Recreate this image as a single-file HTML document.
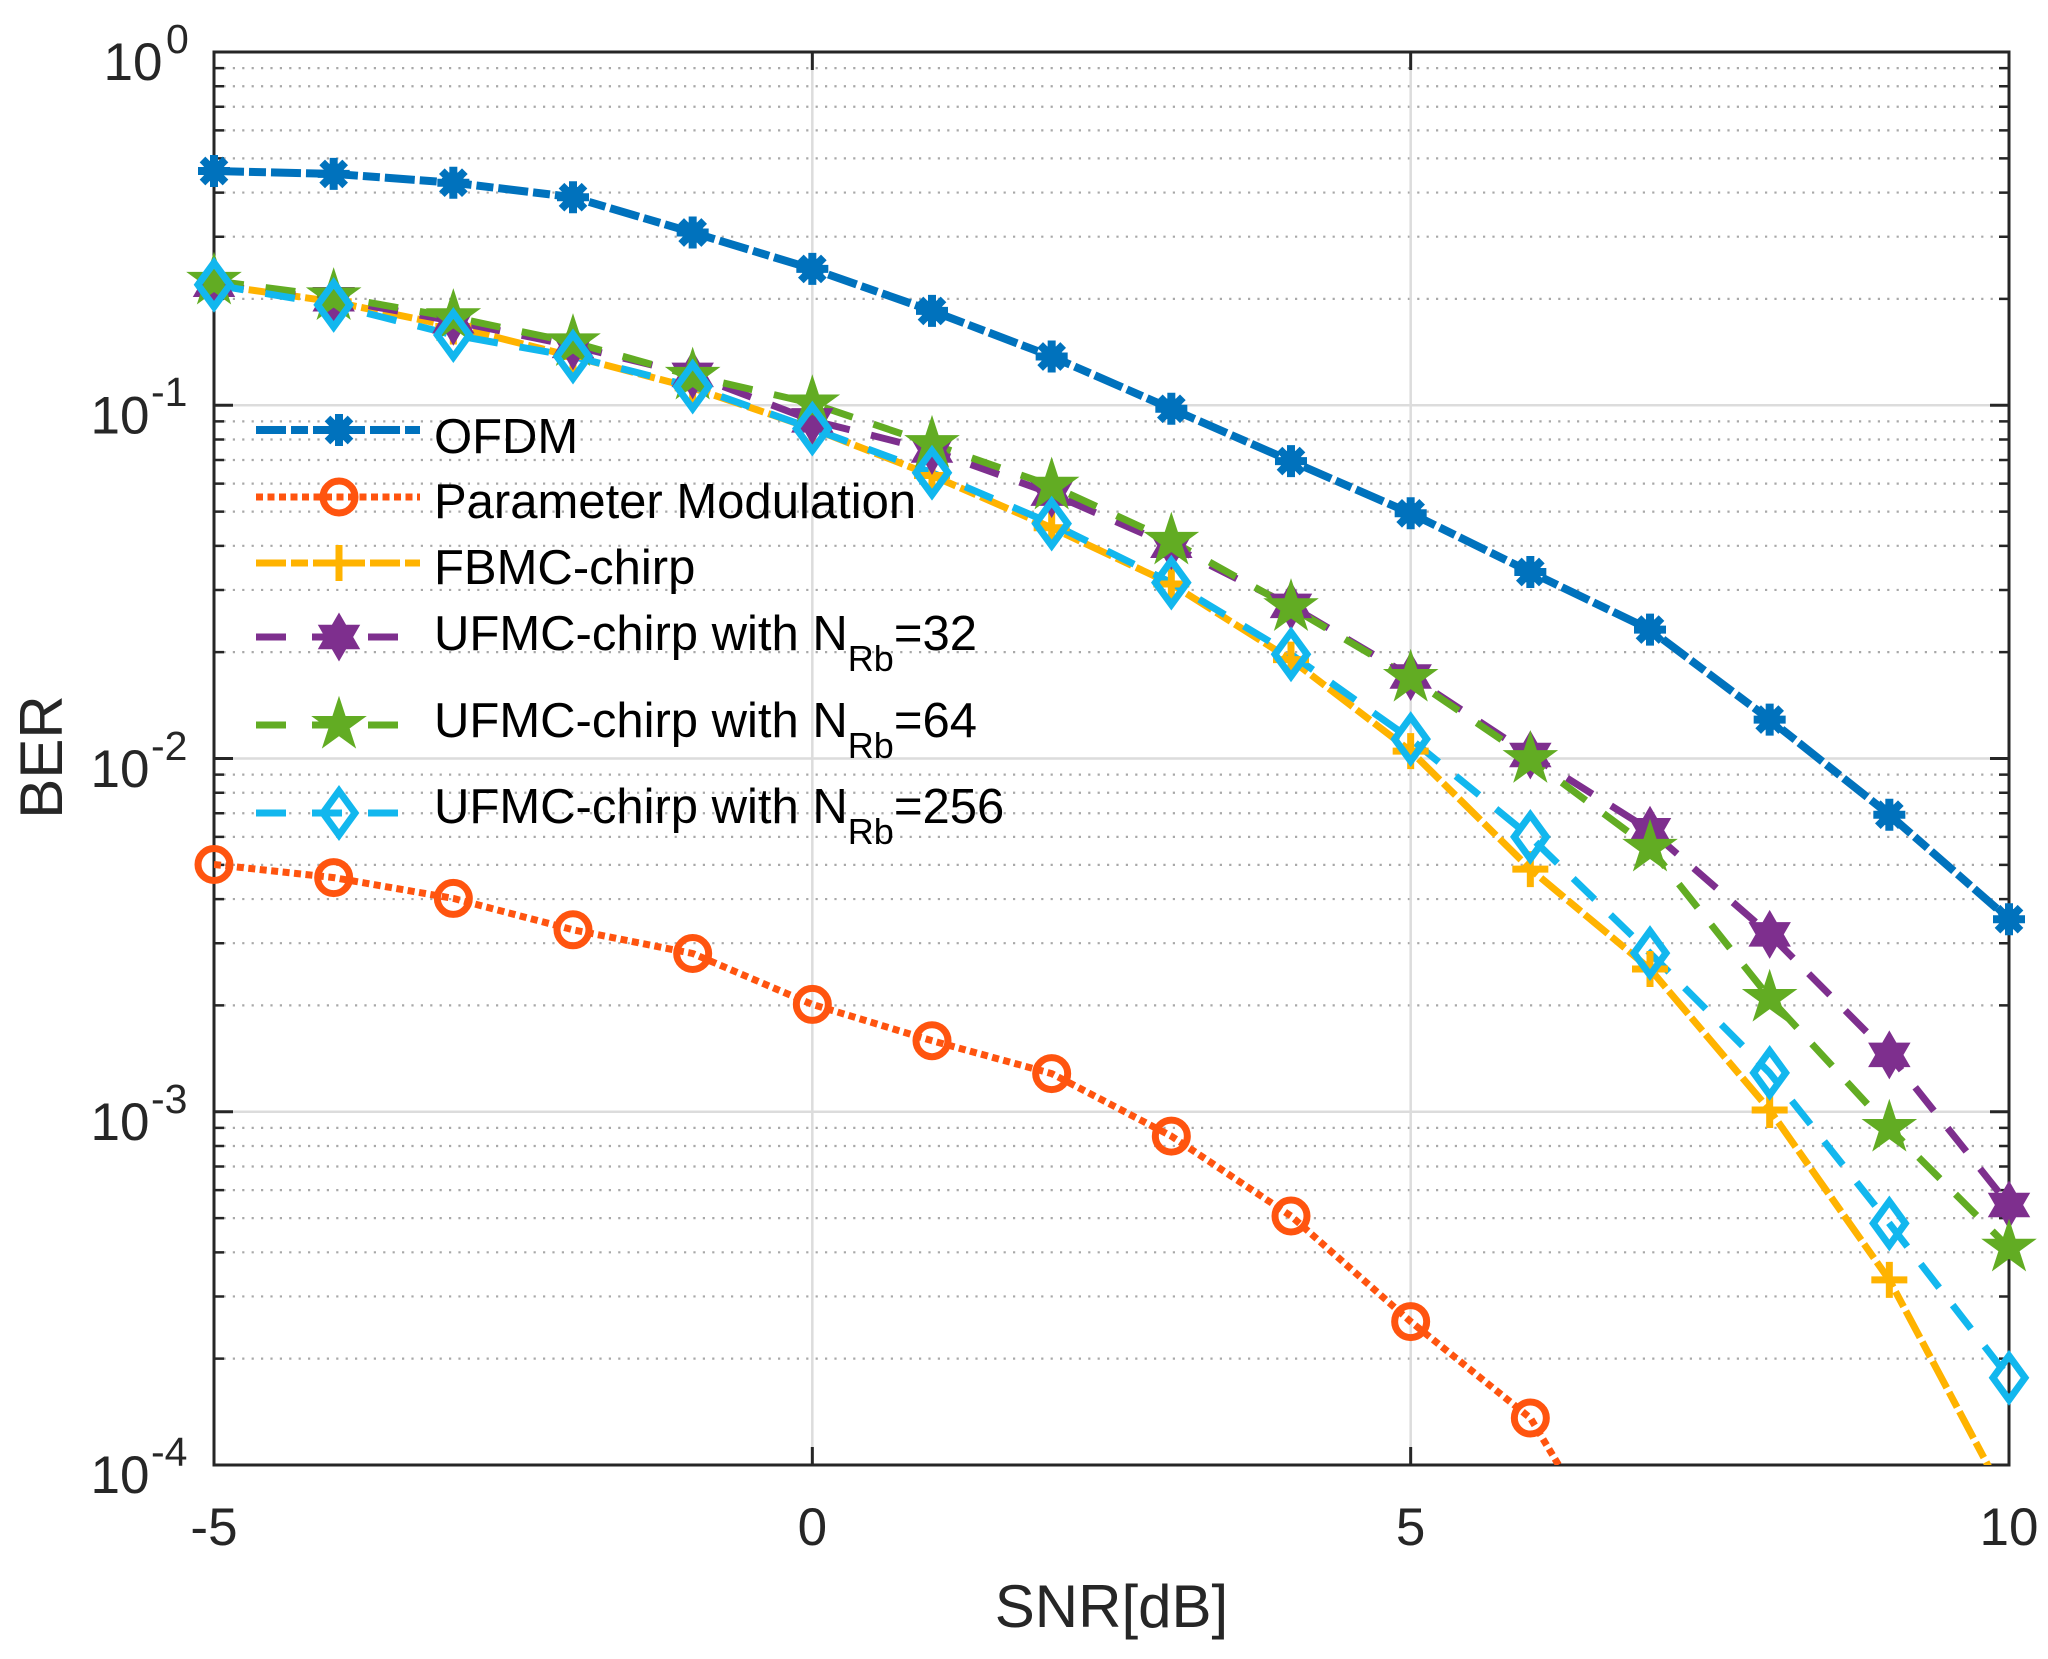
<!DOCTYPE html>
<html><head><meta charset="utf-8"><style>
html,body{margin:0;padding:0;background:#fff;}
svg{display:block;}
text{font-family:"Liberation Sans",Arial,sans-serif;}
</style></head><body>
<svg width="2048" height="1659" viewBox="0 0 2048 1659" xmlns="http://www.w3.org/2000/svg">
<defs>
<clipPath id="pa"><rect x="214" y="52" width="1795" height="1413"/></clipPath>
<g id="mA"><path d="M-16,0H16M0,-16V16M-11.5,-11.5L11.5,11.5M-11.5,11.5L11.5,-11.5" stroke="#0072BD" stroke-width="8" fill="none"/><circle r="11" fill="#0072BD"/></g>
<circle id="mO" r="16" fill="none" stroke="#FF540F" stroke-width="7"/>
<path id="mP" d="M-18,0H18M0,-18V18" stroke="#FFB300" stroke-width="7" fill="none"/>
<polygon id="mH" points="0,-21.5 6.2,-10.75 18.62,-10.75 12.41,0 18.62,10.75 6.2,10.75 0,21.5 -6.2,10.75 -18.62,10.75 -12.41,0 -18.62,-10.75 -6.2,-10.75" fill="#7E2F8E" stroke="#7E2F8E" stroke-width="3"/>
<polygon id="mS" points="0,-26 5.84,-8.03 24.73,-8.03 9.44,3.07 15.28,21.03 0,9.93 -15.28,21.03 -9.44,3.07 -24.73,-8.03 -5.84,-8.03" fill="#62AC23" stroke="#62AC23" stroke-width="2"/>
<path id="mD" d="M0,-22L16,0L0,22L-16,0Z" fill="none" stroke="#12B7EE" stroke-width="7"/>
</defs>
<rect width="2048" height="1659" fill="#fff"/>

<!-- minor grid -->
<path fill="none" stroke="#a8a8a8" stroke-width="2.2" stroke-dasharray="2.2 7.2" d="
M214,298.91H2009M214,236.71H2009M214,192.57H2009M214,158.34H2009M214,130.37H2009M214,106.72H2009M214,86.23H2009M214,68.16H2009
M214,652.16H2009M214,589.96H2009M214,545.82H2009M214,511.59H2009M214,483.62H2009M214,459.97H2009M214,439.48H2009M214,421.41H2009
M214,1005.41H2009M214,943.21H2009M214,899.07H2009M214,864.84H2009M214,836.87H2009M214,813.22H2009M214,792.73H2009M214,774.66H2009
M214,1358.66H2009M214,1296.46H2009M214,1252.32H2009M214,1218.09H2009M214,1190.12H2009M214,1166.47H2009M214,1145.98H2009M214,1127.91H2009"/>
<!-- major grid -->
<path fill="none" stroke="#dcdcdc" stroke-width="2.5" d="M214,405.25H2009M214,758.5H2009M214,1111.75H2009M812.33,52V1465M1410.67,52V1465"/>

<!-- axes box & ticks -->
<g stroke="#262626" fill="none">
<rect x="214" y="52" width="1795" height="1413" stroke-width="3"/>
<path stroke-width="3" d="M214,405.25h19M214,758.5h19M214,1111.75h19M214,52h19M214,1465h19
M2009,405.25h-19M2009,758.5h-19M2009,1111.75h-19M2009,52h-19M2009,1465h-19
M812.33,1465v-18M1410.67,1465v-18M812.33,52v18M1410.67,52v18"/>
<path stroke-width="2.5" d="
M214,298.91h10M214,236.71h10M214,192.57h10M214,158.34h10M214,130.37h10M214,106.72h10M214,86.23h10M214,68.16h10
M214,652.16h10M214,589.96h10M214,545.82h10M214,511.59h10M214,483.62h10M214,459.97h10M214,439.48h10M214,421.41h10
M214,1005.41h10M214,943.21h10M214,899.07h10M214,864.84h10M214,836.87h10M214,813.22h10M214,792.73h10M214,774.66h10
M214,1358.66h10M214,1296.46h10M214,1252.32h10M214,1218.09h10M214,1190.12h10M214,1166.47h10M214,1145.98h10M214,1127.91h10
M2009,298.91h-10M2009,236.71h-10M2009,192.57h-10M2009,158.34h-10M2009,130.37h-10M2009,106.72h-10M2009,86.23h-10M2009,68.16h-10
M2009,652.16h-10M2009,589.96h-10M2009,545.82h-10M2009,511.59h-10M2009,483.62h-10M2009,459.97h-10M2009,439.48h-10M2009,421.41h-10
M2009,1005.41h-10M2009,943.21h-10M2009,899.07h-10M2009,864.84h-10M2009,836.87h-10M2009,813.22h-10M2009,792.73h-10M2009,774.66h-10
M2009,1358.66h-10M2009,1296.46h-10M2009,1252.32h-10M2009,1218.09h-10M2009,1190.12h-10M2009,1166.47h-10M2009,1145.98h-10M2009,1127.91h-10"/>
</g>

<!-- tick labels -->
<g fill="#262626">
<text x="103.5" y="80" font-size="53">10</text><text x="166" y="53" font-size="41">0</text>
<text x="90.5" y="433.5" font-size="53">10</text><text x="151" y="406" font-size="41">-1</text>
<text x="90.5" y="787" font-size="53">10</text><text x="151" y="760" font-size="41">-2</text>
<text x="90.5" y="1140" font-size="53">10</text><text x="151" y="1113" font-size="41">-3</text>
<text x="90.5" y="1493" font-size="53">10</text><text x="151" y="1466" font-size="41">-4</text>
<g font-size="53" text-anchor="middle">
<text x="214" y="1545">-5</text>
<text x="812.33" y="1545">0</text>
<text x="1410.67" y="1545">5</text>
<text x="2009" y="1545">10</text>
</g>
<text x="1111.5" y="1627" font-size="60" text-anchor="middle">SNR[dB]</text>
<text transform="translate(62,757) rotate(-90)" font-size="60" text-anchor="middle">BER</text>
</g>

<!-- series lines -->
<g clip-path="url(#pa)" fill="none" stroke-linejoin="round">
<polyline stroke="#0072BD" stroke-width="8" stroke-dasharray="30 5 17 5" points="214,171.0 333.67,173.9 453.33,182.7 573,197.2 692.67,232.5 812.33,268.9 932,310.9 1051.67,356.5 1171.33,408.8 1291,461.1 1410.67,513.3 1530.33,572.0 1650,629.6 1769.67,719.6 1889.33,814.7 2009,919.2"/>
<polyline stroke="#FF540F" stroke-width="7" stroke-dasharray="7 4.5" points="214,864.5 333.67,877.6 453.33,898.4 573,929.8 692.67,953.5 812.33,1004.4 932,1040.7 1051.67,1073.6 1171.33,1136.1 1291,1216.0 1410.67,1321.6 1530.33,1418.0 1650,1616.9"/>
<polyline stroke="#FFB300" stroke-width="7" stroke-dasharray="30 5 17 5" points="214,284.8 333.67,301.7 453.33,326.5 573,356.5 692.67,387.9 812.33,428.6 932,475.5 1051.67,527.8 1171.33,584.0 1291,659.6 1410.67,751.1 1530.33,869.1 1650,969.0 1769.67,1110.0 1889.33,1279.9 2009,1504.9"/>
<polyline stroke="#7E2F8E" stroke-width="7" stroke-dasharray="30 22" points="214,284.8 333.67,299.3 453.33,321.2 573,345.9 692.67,374.9 812.33,420.4 932,450.5 1051.67,493.6 1171.33,545.8 1291,605.9 1410.67,676.5 1530.33,755.0 1650,830.2 1769.67,934.4 1889.33,1054.9 2009,1205.0"/>
<polyline stroke="#62AC23" stroke-width="7" stroke-dasharray="30 22" points="214,280.9 333.67,296.4 453.33,317.3 573,342.4 692.67,375.9 812.33,403.5 932,444.1 1051.67,485.8 1171.33,540.9 1291,607.3 1410.67,678.0 1530.33,759.2 1650,847.9 1769.67,998.0 1889.33,1128.0 2009,1247.8"/>
<polyline stroke="#12B7EE" stroke-width="7" stroke-dasharray="30 22" points="214,284.8 333.67,304.9 453.33,335.0 573,356.5 692.67,386.5 812.33,428.6 932,472.7 1051.67,523.6 1171.33,582.6 1291,654.3 1410.67,739.1 1530.33,836.9 1650,953.1 1769.67,1072.9 1889.33,1223.4 2009,1377.8"/>
</g>

<!-- markers -->
<g>
<use href="#mA" x="214" y="171.0"/><use href="#mA" x="333.67" y="173.9"/><use href="#mA" x="453.33" y="182.7"/><use href="#mA" x="573" y="197.2"/><use href="#mA" x="692.67" y="232.5"/><use href="#mA" x="812.33" y="268.9"/><use href="#mA" x="932" y="310.9"/><use href="#mA" x="1051.67" y="356.5"/><use href="#mA" x="1171.33" y="408.8"/><use href="#mA" x="1291" y="461.1"/><use href="#mA" x="1410.67" y="513.3"/><use href="#mA" x="1530.33" y="572.0"/><use href="#mA" x="1650" y="629.6"/><use href="#mA" x="1769.67" y="719.6"/><use href="#mA" x="1889.33" y="814.7"/><use href="#mA" x="2009" y="919.2"/>

<use href="#mO" x="214" y="864.5"/><use href="#mO" x="333.67" y="877.6"/><use href="#mO" x="453.33" y="898.4"/><use href="#mO" x="573" y="929.8"/><use href="#mO" x="692.67" y="953.5"/><use href="#mO" x="812.33" y="1004.4"/><use href="#mO" x="932" y="1040.7"/><use href="#mO" x="1051.67" y="1073.6"/><use href="#mO" x="1171.33" y="1136.1"/><use href="#mO" x="1291" y="1216.0"/><use href="#mO" x="1410.67" y="1321.6"/><use href="#mO" x="1530.33" y="1418.0"/>

<use href="#mP" x="214" y="284.8"/><use href="#mP" x="333.67" y="301.7"/><use href="#mP" x="453.33" y="326.5"/><use href="#mP" x="573" y="356.5"/><use href="#mP" x="692.67" y="387.9"/><use href="#mP" x="812.33" y="428.6"/><use href="#mP" x="932" y="475.5"/><use href="#mP" x="1051.67" y="527.8"/><use href="#mP" x="1171.33" y="584.0"/><use href="#mP" x="1291" y="659.6"/><use href="#mP" x="1410.67" y="751.1"/><use href="#mP" x="1530.33" y="869.1"/><use href="#mP" x="1650" y="969.0"/><use href="#mP" x="1769.67" y="1110.0"/><use href="#mP" x="1889.33" y="1279.9"/>

<use href="#mH" x="214" y="284.8"/><use href="#mH" x="333.67" y="299.3"/><use href="#mH" x="453.33" y="321.2"/><use href="#mH" x="573" y="345.9"/><use href="#mH" x="692.67" y="374.9"/><use href="#mH" x="812.33" y="420.4"/><use href="#mH" x="932" y="450.5"/><use href="#mH" x="1051.67" y="493.6"/><use href="#mH" x="1171.33" y="545.8"/><use href="#mH" x="1291" y="605.9"/><use href="#mH" x="1410.67" y="676.5"/><use href="#mH" x="1530.33" y="755.0"/><use href="#mH" x="1650" y="830.2"/><use href="#mH" x="1769.67" y="934.4"/><use href="#mH" x="1889.33" y="1054.9"/><use href="#mH" x="2009" y="1205.0"/>

<use href="#mS" x="214" y="280.9"/><use href="#mS" x="333.67" y="296.4"/><use href="#mS" x="453.33" y="317.3"/><use href="#mS" x="573" y="342.4"/><use href="#mS" x="692.67" y="375.9"/><use href="#mS" x="812.33" y="403.5"/><use href="#mS" x="932" y="444.1"/><use href="#mS" x="1051.67" y="485.8"/><use href="#mS" x="1171.33" y="540.9"/><use href="#mS" x="1291" y="607.3"/><use href="#mS" x="1410.67" y="678.0"/><use href="#mS" x="1530.33" y="759.2"/><use href="#mS" x="1650" y="847.9"/><use href="#mS" x="1769.67" y="998.0"/><use href="#mS" x="1889.33" y="1128.0"/><use href="#mS" x="2009" y="1247.8"/>

<use href="#mD" x="214" y="284.8"/><use href="#mD" x="333.67" y="304.9"/><use href="#mD" x="453.33" y="335.0"/><use href="#mD" x="573" y="356.5"/><use href="#mD" x="692.67" y="386.5"/><use href="#mD" x="812.33" y="428.6"/><use href="#mD" x="932" y="472.7"/><use href="#mD" x="1051.67" y="523.6"/><use href="#mD" x="1171.33" y="582.6"/><use href="#mD" x="1291" y="654.3"/><use href="#mD" x="1410.67" y="739.1"/><use href="#mD" x="1530.33" y="836.9"/><use href="#mD" x="1650" y="953.1"/><use href="#mD" x="1769.67" y="1072.9"/><use href="#mD" x="1889.33" y="1223.4"/><use href="#mD" x="2009" y="1377.8"/>
</g>

<!-- legend -->
<g fill="none">
<path d="M256,430H420" stroke="#0072BD" stroke-width="8" stroke-dasharray="30 5 17 5"/>
<path d="M256,497H420" stroke="#FF540F" stroke-width="7" stroke-dasharray="7 4.5"/>
<path d="M256,563H420" stroke="#FFB300" stroke-width="7" stroke-dasharray="30 5 17 5"/>
<path d="M256,637H400" stroke="#7E2F8E" stroke-width="7" stroke-dasharray="30 26"/>
<path d="M256,725H400" stroke="#62AC23" stroke-width="7" stroke-dasharray="30 26"/>
<path d="M256,813H400" stroke="#12B7EE" stroke-width="7" stroke-dasharray="30 26"/>
</g>
<use href="#mA" x="339" y="430"/>
<use href="#mO" x="339" y="497"/>
<use href="#mP" x="339" y="563"/>
<use href="#mH" x="339" y="637"/>
<use href="#mS" x="339" y="725"/>
<use href="#mD" x="339" y="813"/>
<g fill="#000" font-size="49">
<text x="434" y="453">OFDM</text>
<text x="434" y="518">Parameter Modulation</text>
<text x="434" y="584">FBMC-chirp</text>
<text x="434" y="650">UFMC-chirp with N<tspan font-size="36" dy="21">Rb</tspan><tspan dy="-21">=32</tspan></text>
<text x="434" y="737">UFMC-chirp with N<tspan font-size="36" dy="21">Rb</tspan><tspan dy="-21">=64</tspan></text>
<text x="434" y="823">UFMC-chirp with N<tspan font-size="36" dy="21">Rb</tspan><tspan dy="-21">=256</tspan></text>
</g>
</svg>
</body></html>
